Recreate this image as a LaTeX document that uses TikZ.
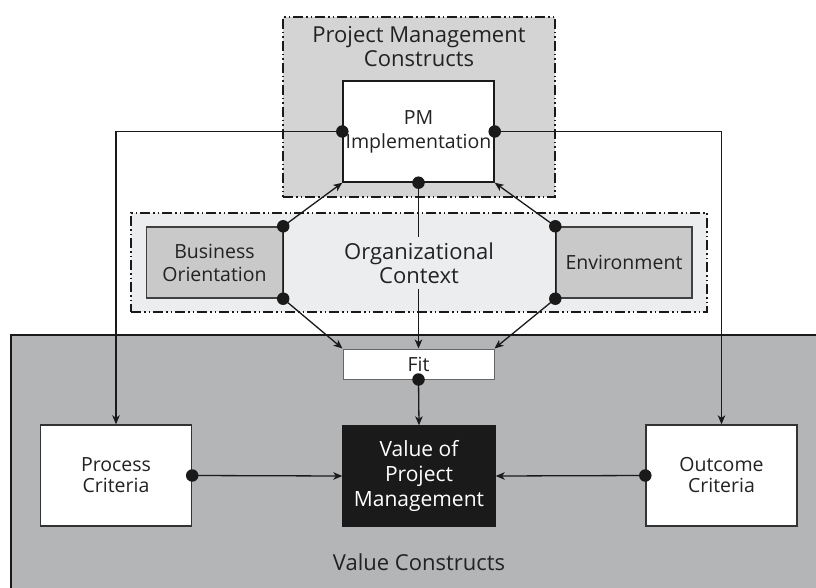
\documentclass[tikz,border=0pt]{standalone}
\usepackage{fontspec}
\setmainfont{Open Sans}
\usetikzlibrary{arrows.meta,calc}
\definecolor{txt}{HTML}{222222}
\definecolor{pmfill}{HTML}{D4D4D4}
\definecolor{orgfill}{HTML}{ECEDEE}
\definecolor{sidefill}{HTML}{C9C9C9}
\definecolor{valfill}{HTML}{B4B5B7}
\definecolor{ink}{HTML}{1A1A1A}
\tikzset{
  ln/.style={line width=1.3pt, draw=ink},
  arr/.style={ln, -{Stealth[length=9pt,width=7.5pt,inset=2.5pt]}},
  dashbox/.style={draw=ink, line width=1.4pt, dash pattern=on 10pt off 3pt on 1.5pt off 3pt on 1.5pt off 3pt},
  box/.style={draw=ink, line width=1.4pt, inner sep=0pt, align=center, text=txt},
  dot/.style={circle, fill=ink, inner sep=0pt, minimum size=12.5pt},
  big/.style={font=\fontsize{22}{24}\selectfont},
  mid/.style={font=\fontsize{19.5}{23}\selectfont},
}
\begin{document}
\begin{tikzpicture}[x=1pt,y=-1pt]
\useasboundingbox (0,0) rectangle (816,588);
\clip (0,0) rectangle (816,588);
\fill[white] (0,0) rectangle (816,588);

% Value constructs region
\node[draw=ink, line width=1.5pt, fill=valfill, minimum width=820pt, minimum height=270pt, anchor=north west, inner sep=0pt] (valreg) at (10,334) {};
\node[big, text=txt, anchor=base] (vallbl) at (419,570) {Value Constructs};

% Project management constructs region
\node[dashbox, fill=pmfill, minimum width=272pt, minimum height=180pt, inner sep=0pt] (pmreg) at (419,107) {};
\node[big, text=txt, align=center] (pmlbl) at (419,47) {Project Management\\Constructs};

% Organizational context region
\node[dashbox, fill=orgfill, minimum width=576pt, minimum height=99pt, inner sep=0pt] (orgreg) at (419,262.5) {};

% boxes
\node[box, fill=white, minimum width=151pt, minimum height=101pt, font=\fontsize{19.5}{24}\selectfont] (pm) at (418.5,131.5) {PM\\Implementation};
\node[box, fill=sidefill, draw=black!75, minimum width=136pt, minimum height=71pt, mid] (bus) at (214.5,262.5) {Business\\Orientation};
\node[box, fill=sidefill, draw=black!75, minimum width=136pt, minimum height=71pt, mid] (env) at (624,262.5) {Environment};
\node[box, fill=white, draw=black!60, line width=1pt, minimum width=151pt, minimum height=30pt, font=\fontsize{19.5}{23}\selectfont] (fit) at (418.5,364) {Fit};
\node[box, fill=ink, text=white, minimum width=152pt, minimum height=100pt, font=\fontsize{21}{25}\selectfont] (vpm) at (419,476) {Value of\\Project\\Management};
\node[box, fill=white, draw=black!80, minimum width=151pt, minimum height=101pt, font=\fontsize{19.5}{21}\selectfont] (proc) at (116,475.5) {Process\\Criteria};
\node[box, fill=white, draw=black!80, minimum width=151pt, minimum height=101pt, font=\fontsize{19.5}{21}\selectfont] (outc) at (721.5,475.5) {Outcome\\Criteria};

% connectors
\draw[arr] (pm.south) -- (fit.north);
\node[big, text=txt, align=center, fill=orgfill, inner xsep=3pt, inner ysep=6pt] (orglbl) at (419,263) {Organizational\\Context};

\draw[ln] (bus.north east) -- (bus.south east);
\draw[ln] (env.north west) -- (env.south west);
\draw[arr] (bus.north east) -- (pm.south west);
\draw[arr] (env.north west) -- (pm.south east);
\draw[arr] (bus.south east) -- (fit.north west);
\draw[arr] (env.south west) -- (fit.north east);
\draw[arr] (pm.west) -| (proc.north);
\draw[arr] (pm.east) -| (outc.north);
\draw[arr] (fit.south) -- (vpm.north);
\draw[arr] (proc.east) -- (vpm.west);
\draw[arr] (outc.west) -- (vpm.east);

% dots
\node[dot] (d1) at (pm.west) {};
\node[dot] (d2) at (pm.east) {};
\node[dot] (d3) at (pm.south) {};
\node[dot] (d4) at (bus.north east) {};
\node[dot] (d5) at (bus.south east) {};
\node[dot] (d6) at (env.north west) {};
\node[dot] (d7) at (env.south west) {};
\node[dot] (d8) at (fit.south) {};
\node[dot] (d9) at (proc.east) {};
\node[dot] (d10) at (outc.west) {};
\end{tikzpicture}
\end{document}
